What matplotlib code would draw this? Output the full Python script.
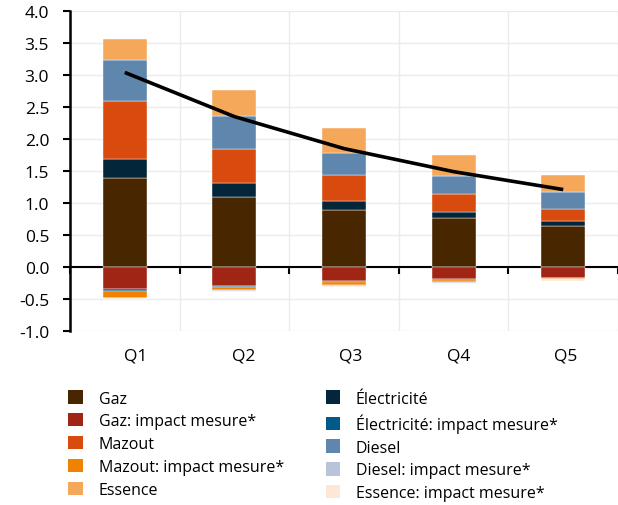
import numpy as np
import matplotlib
matplotlib.use("Agg")
import matplotlib.pyplot as plt
from matplotlib.patches import Patch

# données
quintiles = ["Q1", "Q2", "Q3", "Q4", "Q5"]
gaz = [1.39, 1.10, 0.885, 0.76, 0.635]
electricite = [0.30, 0.22, 0.15, 0.105, 0.085]
mazout = [0.91, 0.53, 0.40, 0.27, 0.185]
diesel = [0.63, 0.51, 0.35, 0.28, 0.26]
essence = [0.34, 0.40, 0.38, 0.33, 0.27]

gaz_imp = [-0.34, -0.29, -0.225, -0.19, -0.165]
elec_imp = [-0.03, -0.015, -0.015, -0.01, -0.008]
mazout_imp = [-0.11, -0.055, -0.045, -0.035, -0.012]
diesel_imp = [-0.01, -0.01, -0.01, -0.008, -0.008]
essence_imp = [-0.015, -0.025, -0.02, -0.015, -0.02]

total = [3.04, 2.35, 1.85, 1.49, 1.21]

plt.rcParams['font.family'] = ['Open Sans', 'DejaVu Sans']
plt.rcParams['axes.unicode_minus'] = False

colors = {
    "Gaz": "#472600",
    "Gaz: impact mesure*": "#a02515",
    "Mazout": "#d94a0f",
    "Mazout: impact mesure*": "#f08200",
    "Essence": "#f5a85a",
    "Électricité": "#03263b",
    "Électricité: impact mesure*": "#005a8a",
    "Diesel": "#5f87ad",
    "Diesel: impact mesure*": "#b8c4da",
    "Essence: impact mesure*": "#fde8d8",
}

fig = plt.figure(figsize=(6.18, 5.06), dpi=100)
ax = fig.add_axes([70 / 618, 1 - 332 / 506, 548 / 618, 320 / 506])

x = np.arange(len(quintiles))
w = 0.4

# positifs
pos = [("Gaz", gaz), ("Électricité", electricite), ("Mazout", mazout),
       ("Diesel", diesel), ("Essence", essence)]
bottom = np.zeros(len(x))
for name, vals in pos:
    ax.bar(x, vals, w, bottom=bottom, color=colors[name], edgecolor="white", linewidth=0.3, zorder=3)
    bottom += np.array(vals)

# négatifs
neg = [("Gaz: impact mesure*", gaz_imp), ("Électricité: impact mesure*", elec_imp),
       ("Mazout: impact mesure*", mazout_imp), ("Diesel: impact mesure*", diesel_imp),
       ("Essence: impact mesure*", essence_imp)]
bottom = np.zeros(len(x))
for name, vals in neg:
    ax.bar(x, vals, w, bottom=bottom, color=colors[name], edgecolor="white", linewidth=0.3, zorder=3)
    bottom += np.array(vals)

ax.plot(x, total, color="black", lw=2.6, zorder=4, solid_capstyle="butt")

ax.set_xlim(-0.5, 4.5)
ax.set_ylim(-1.0, 4.0)
ax.set_yticks(np.arange(-1.0, 4.01, 0.5))
ax.set_yticklabels([f"{v:.1f}" for v in np.arange(-1.0, 4.01, 0.5)])

# ticks aux limites des quintiles, sur l'axe zéro
ax.set_xticks(np.arange(-0.5, 4.6, 1))
ax.set_xticklabels([])
ax.tick_params(axis="x", length=5, width=1.5, direction="out", color="black")
ax.tick_params(axis="y", length=5, width=1.5, direction="out", pad=10, labelsize=12.5)

# étiquettes Q sous le graphique (légèrement décalées vers la droite dans l'original)
shifts = [8, 7, 5, 3.5, 1.5]
for xi, lab, dx in zip(x, quintiles, shifts):
    ax.annotate(lab, xy=(xi, 0), xycoords=ax.get_xaxis_transform(),
                xytext=(dx, -12), textcoords="offset points",
                ha="center", va="top", fontsize=12.5)

for s in ["top", "right"]:
    ax.spines[s].set_visible(False)
ax.spines["bottom"].set_position(("data", 0))
ax.spines["bottom"].set_linewidth(1.5)
ax.spines["left"].set_linewidth(1.8)

ax.grid(axis="y", color="#ebebeb", lw=1, zorder=0)
ax.grid(axis="x", color="#ebebeb", lw=1, zorder=0)
ax.set_axisbelow(True)

order = ["Gaz", "Gaz: impact mesure*", "Mazout", "Mazout: impact mesure*", "Essence",
         "Électricité", "Électricité: impact mesure*", "Diesel", "Diesel: impact mesure*",
         "Essence: impact mesure*"]
handles = [Patch(facecolor=colors[n], label=n) for n in order]
fig.legend(handles=handles, ncol=2, loc="upper left", bbox_to_anchor=(62 / 618, 1 - 385 / 506),
           frameon=False, fontsize=11.5, handlelength=0.9, handleheight=0.9,
           handletextpad=1.0, columnspacing=2.6, labelspacing=0.42, borderaxespad=0)

fig.savefig("out.png", dpi=100)
